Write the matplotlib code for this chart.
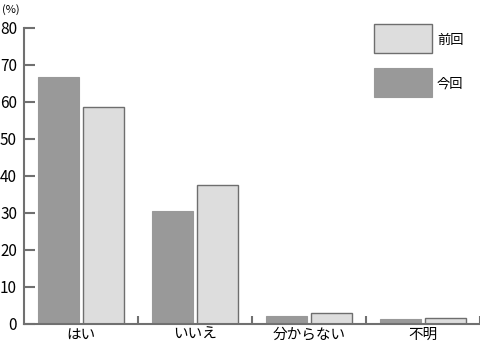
import numpy as np
import matplotlib
matplotlib.use("Agg")
import matplotlib.pyplot as plt
from matplotlib.patches import Rectangle

plt.rcParams['font.family'] = ['Noto Sans CJK JP', 'DejaVu Sans']

categories = ["はい", "いいえ", "分からない", "不明"]
konkai = [66.7, 30.4, 2.0, 1.2]   # 今回
zenkai = [58.5, 37.4, 2.9, 1.5]   # 前回
y_ticks = [0, 10, 20, 30, 40, 50, 60, 70, 80]

dark = "#999999"
light = "#dddddd"
axis_col = "#707070"

fig = plt.figure(figsize=(4.81, 3.49), dpi=100)
ax = fig.add_axes([24 / 481, 25.5 / 349, 456 / 481, 295.5 / 349])

x = np.arange(len(categories))
w = 0.36
ax.bar(x - 0.2, konkai, w, color=dark, edgecolor=dark, linewidth=0.8)
ax.bar(x + 0.2, zenkai, w, color=light, edgecolor="#6e6e6e", linewidth=1.0)

ax.set_xlim(-0.5, 3.5)
ax.set_ylim(0, 80)

for s in ["top", "right"]:
    ax.spines[s].set_visible(False)
for s in ["left", "bottom"]:
    ax.spines[s].set_color(axis_col)
    ax.spines[s].set_linewidth(1.5)

ax.set_yticks(y_ticks)
ax.tick_params(axis="y", direction="in", length=8, width=1.5, color=axis_col,
               labelsize=11, pad=5)

ax.set_xticks([0.5, 1.5, 2.5, 3.5])
ax.set_xticklabels([])
ax.tick_params(axis="x", which="major", direction="in", length=6, width=1.5,
               color=axis_col)
ax.set_xticks(x, minor=True)
ax.set_xticklabels(categories, minor=True)
ax.tick_params(axis="x", which="minor", length=0, labelsize=10.5, pad=3)

fig.text(2 / 481, 1 - 10 / 349, "(%)", fontsize=8, va="center", ha="left")

# legend
fig.patches.append(Rectangle((374 / 481, (349 - 53) / 349), 58 / 481, 29 / 349,
                             transform=fig.transFigure, facecolor=light,
                             edgecolor="#6e6e6e", linewidth=1.0))
fig.patches.append(Rectangle((374 / 481, (349 - 97) / 349), 58 / 481, 29 / 349,
                             transform=fig.transFigure, facecolor=dark,
                             edgecolor=dark, linewidth=0.8))
fig.text(437 / 481, (349 - 40) / 349, "前回", fontsize=9.5, va="center", ha="left")
fig.text(437 / 481, (349 - 84) / 349, "今回", fontsize=9.5, va="center", ha="left")

fig.savefig("out.png", dpi=100)
